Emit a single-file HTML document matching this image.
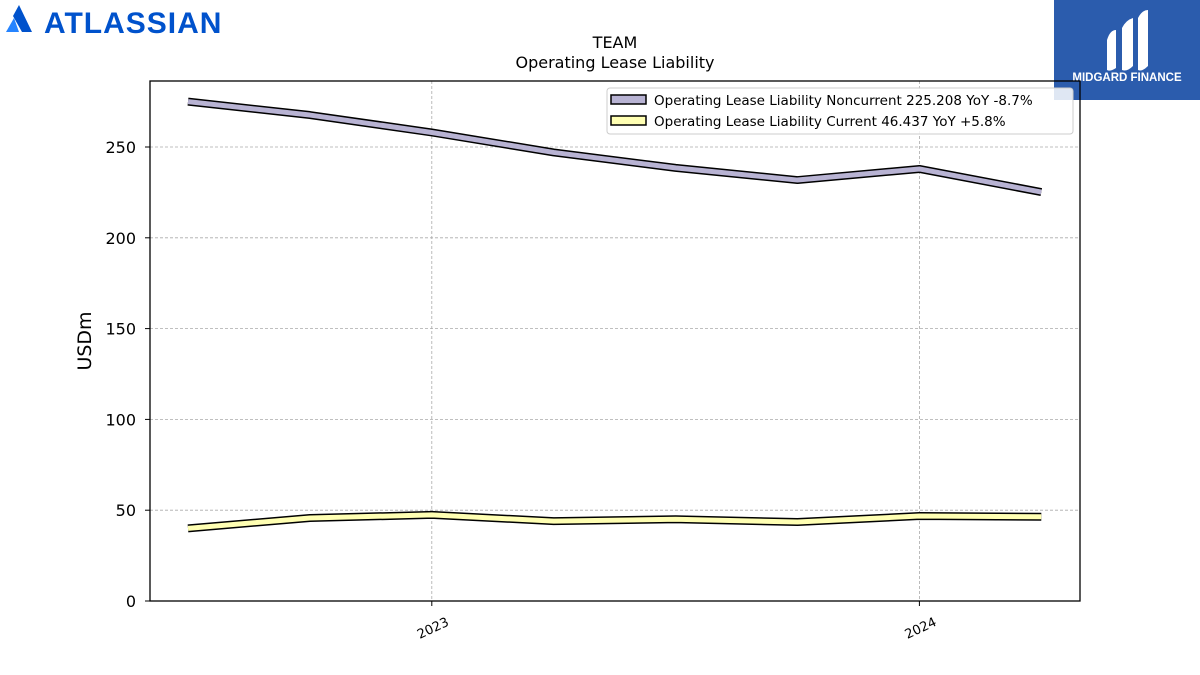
<!DOCTYPE html>
<html><head><meta charset="utf-8"><style>
body{margin:0;background:#fff;font-family:"Liberation Sans","DejaVu Sans",sans-serif}
#wrap{position:relative;width:1200px;height:675px;overflow:hidden}
</style></head><body><div id="wrap">
<svg id="chart" width="1200" height="675" xmlns="http://www.w3.org/2000/svg" font-family="DejaVu Sans, Liberation Sans, sans-serif">
<g>
<polygon points="6,32 14,18 19,32" fill="#2684ff"/>
<polygon points="13,16 19,5 32,32 22,32" fill="#0052cc"/>
<text x="44" y="33" font-size="30" font-weight="bold" fill="#0052cc" font-family="Liberation Sans, sans-serif" letter-spacing="1">ATLASSIAN</text>
</g>
<g>
<rect x="1054" y="0" width="146" height="100" fill="#2b5cad"/>
<path d="M1107,40 Q1110,30 1116,30 L1116,68 Q1110,72 1107,70 Z" fill="#fff"/>
<path d="M1122,28 Q1126,20 1133,18 L1133,66 Q1127,72 1122,70 Z" fill="#fff"/>
<path d="M1138,18 Q1142,10 1148,10 L1148,66 Q1142,72 1138,70 Z" fill="#fff"/>
<text x="1127" y="81" font-size="11.5" font-weight="bold" fill="#fff" text-anchor="middle" font-family="Liberation Sans, sans-serif">MIDGARD FINANCE</text>
</g>
<text x="615" y="48" font-size="16" text-anchor="middle">TEAM</text>
<text x="615" y="68" font-size="16" text-anchor="middle">Operating Lease Liability</text>
<g id="grid"></g><g id="axes"></g><g id="series"></g>
<rect x="150" y="81" width="930" height="520" fill="none" stroke="#000" stroke-width="1.3"/>
<text transform="translate(91,341) rotate(-90)" font-size="19" text-anchor="middle">USDm</text>
<g>
<rect x="607" y="88" width="466" height="46" rx="3" fill="#fff" fill-opacity="0.85" stroke="#ccc"/>
<rect x="611" y="95" width="35" height="9" fill="#b8b3d3" stroke="#000" stroke-width="1.5"/>
<text x="654" y="105" font-size="13.5">Operating Lease Liability Noncurrent  225.208 YoY -8.7%</text>
<rect x="611" y="116" width="35" height="9" fill="#ffffb3" stroke="#000" stroke-width="1.5"/>
<text x="654" y="126" font-size="13.5">Operating Lease Liability Current  46.437 YoY +5.8%</text>
</g>
</svg>
<script>
const periods=["2022Q3","2022Q4","2023Q1","2023Q2","2023Q3","2023Q4","2024Q1","2024Q2"];
const noncurrent=[275,267.6,258,247,238.5,231.8,237.9,225.2];
const current=[40,45.7,47.4,44,45,43.5,46.8,46.4];
const yTicks=[0,50,100,150,200,250];
const xTickLabels=["2023","2024"];
const xTickIndex=[2,6];
const NS="http://www.w3.org/2000/svg";
const x0=188,dx=121.9;
function xs(i){return x0+i*dx;}
function ys(v){return 601-v*1.816;}
function mk(t,a,p){const e=document.createElementNS(NS,t);for(const k in a)e.setAttribute(k,a[k]);p.appendChild(e);return e;}
const grid=document.getElementById('grid'),axes=document.getElementById('axes'),ser=document.getElementById('series');
yTicks.forEach(v=>{const y=ys(v);
 if(v>0){const g=mk('line',{x1:150,x2:1080,y1:y,y2:y,stroke:'#aaa','stroke-dasharray':'3,2','stroke-width':0.8},grid);
 
 }
 mk('line',{x1:145,x2:150,y1:y,y2:y,stroke:'#000'},axes);
 const t=mk('text',{x:136,y:y+6,'font-size':16,'text-anchor':'end'},axes);t.textContent=v;
 
 });
xTickIndex.forEach((idx,k)=>{const x=xs(idx);
 const g=mk('line',{x1:x,x2:x,y1:81,y2:601,stroke:'#aaa','stroke-dasharray':'3,2','stroke-width':0.8},grid);
 
 
 mk('line',{x1:x,x2:x,y1:601,y2:606,stroke:'#000'},axes);
 const t=mk('text',{x:x+18,y:625,'font-size':13,'text-anchor':'end',transform:`rotate(-25 ${x+18} 625)`},axes);t.textContent=xTickLabels[k];
 
 });
function line(vals,col,name){const pts=vals.map((v,i)=>xs(i)+','+ys(v)).join(' ');
 const g=mk('g',{},ser);
 
 
 mk('polyline',{points:pts,fill:'none',stroke:'#000','stroke-width':8,'stroke-linejoin':'round'},g);
 mk('polyline',{points:pts,fill:'none',stroke:col,'stroke-width':5,'stroke-linejoin':'round'},g);}
line(noncurrent,'#b8b3d3','series-noncurrent');
line(current,'#ffffb3','series-current');
</script></div></body></html>
